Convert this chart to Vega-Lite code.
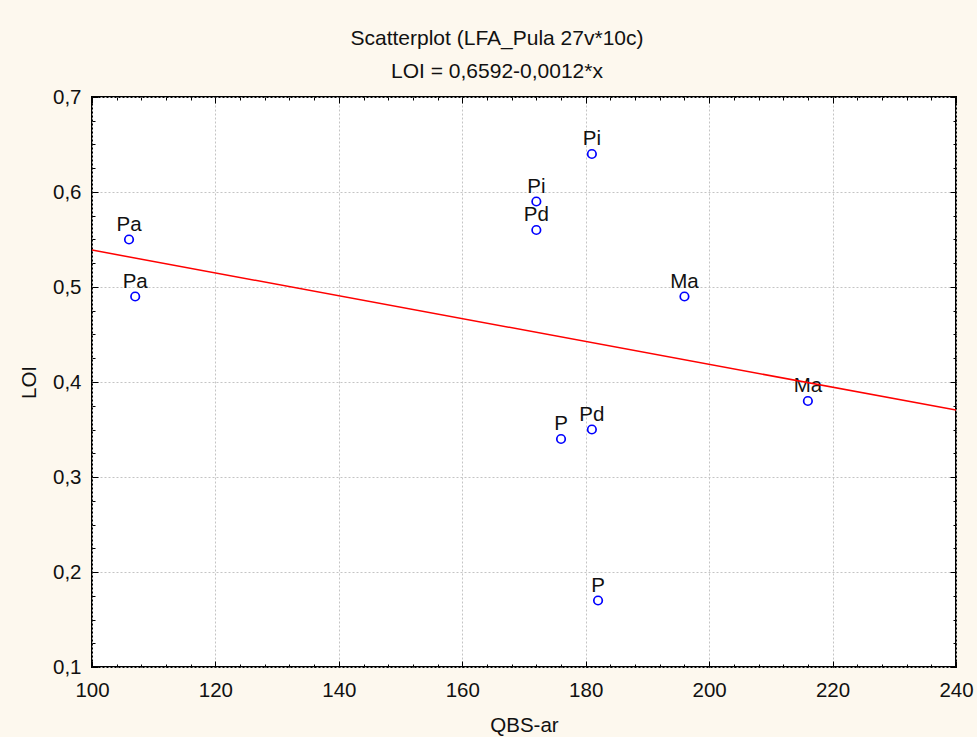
{
  "$schema": "https://vega.github.io/schema/vega-lite/v6.json",
  "width": 864,
  "height": 570,
  "autosize": {"type": "none"},
  "padding": {"left": 92, "top": 97, "right": 21, "bottom": 70},
  "background": "#fdf8ee",
  "title": {
    "text": ["Scatterplot (LFA_Pula 27v*10c)", "LOI = 0,6592-0,0012*x"],
    "font": "Liberation Sans",
    "fontSize": 21,
    "fontWeight": "normal",
    "color": "#111111",
    "lineHeight": 33,
    "anchor": "middle",
    "frame": "group",
    "dx": -27,
    "offset": 5
  },
  "data": {
    "values": [
      {"site": "Pa", "QBS": 106, "LOI": 0.55},
      {"site": "Pa", "QBS": 107, "LOI": 0.49},
      {"site": "Pi", "QBS": 172, "LOI": 0.59},
      {"site": "Pd", "QBS": 172, "LOI": 0.56},
      {"site": "Pi", "QBS": 181, "LOI": 0.64},
      {"site": "Ma", "QBS": 196, "LOI": 0.49},
      {"site": "Ma", "QBS": 216, "LOI": 0.38},
      {"site": "P", "QBS": 176, "LOI": 0.34},
      {"site": "Pd", "QBS": 181, "LOI": 0.35},
      {"site": "P", "QBS": 182, "LOI": 0.17}
    ]
  },
  "layer": [
    {
      "mark": {"type": "point", "shape": "circle", "filled": false, "stroke": "#0000ff", "strokeWidth": 1.7, "size": 72, "opacity": 1},
      "encoding": {
        "x": {
          "field": "QBS", "type": "quantitative",
          "scale": {"domain": [100, 240], "nice": false, "zero": false},
          "axis": {
            "orient": "bottom", "title": "QBS-ar", "titlePadding": 15,
            "values": [100, 120, 140, 160, 180, 200, 220, 240],
            "ticks": false, "grid": true, "labelPadding": 13,
            "labelFlush": false, "labelOverlap": false
          }
        },
        "y": {
          "field": "LOI", "type": "quantitative",
          "scale": {"domain": [0.1, 0.7], "nice": false, "zero": false},
          "axis": {
            "orient": "left", "title": "LOI", "titlePadding": 13,
            "values": [0.1, 0.2, 0.3, 0.4, 0.5, 0.6, 0.7],
            "labelExpr": "replace(format(datum.value, '.1f'), '.', ',')",
            "ticks": false, "grid": true, "labelPadding": 11,
            "labelFlush": false, "labelOverlap": false
          }
        }
      }
    },
    {
      "mark": {"type": "text", "dy": -9, "baseline": "alphabetic", "align": "center", "font": "Liberation Sans", "fontSize": 20.5, "color": "#111111"},
      "encoding": {
        "x": {
          "field": "QBS", "type": "quantitative",
          "axis": {"orient": "bottom", "title": null, "labels": false, "grid": false, "domain": false,
                   "values": [100, 120, 140, 160, 180, 200, 220, 240], "tickSize": -6}
        },
        "y": {
          "field": "LOI", "type": "quantitative",
          "axis": {"orient": "left", "title": null, "labels": false, "grid": false, "domain": false,
                   "values": [0.1, 0.2, 0.3, 0.4, 0.5, 0.6, 0.7], "tickSize": -6}
        },
        "text": {"field": "site"}
      }
    },
    {
      "transform": [{"regression": "LOI", "on": "QBS", "extent": [100, 240]}],
      "mark": {"type": "line", "color": "#ff0000", "strokeWidth": 1.5, "clip": true},
      "encoding": {
        "x": {
          "field": "QBS", "type": "quantitative",
          "axis": {"orient": "bottom", "title": null, "labels": false, "grid": false, "domain": false,
                   "values": [100, 104, 108, 112, 116, 120, 124, 128, 132, 136, 140, 144, 148, 152, 156, 160, 164, 168, 172, 176, 180, 184, 188, 192, 196, 200, 204, 208, 212, 216, 220, 224, 228, 232, 236, 240],
                   "tickSize": -3}
        },
        "y": {
          "field": "LOI", "type": "quantitative",
          "axis": {"orient": "left", "title": null, "labels": false, "grid": false, "domain": false,
                   "values": [0.1, 0.125, 0.15, 0.175, 0.2, 0.225, 0.25, 0.275, 0.3, 0.325, 0.35, 0.375, 0.4, 0.425, 0.45, 0.475, 0.5, 0.525, 0.55, 0.575, 0.6, 0.625, 0.65, 0.675, 0.7],
                   "tickSize": -3}
        }
      }
    },
    {
      "mark": {"type": "point", "opacity": 0},
      "encoding": {
        "x": {
          "field": "QBS", "type": "quantitative",
          "axis": {"orient": "top", "title": null, "labels": false, "grid": false, "domain": false,
                   "values": [100, 120, 140, 160, 180, 200, 220, 240], "tickSize": -6}
        },
        "y": {
          "field": "LOI", "type": "quantitative",
          "axis": {"orient": "right", "title": null, "labels": false, "grid": false, "domain": false,
                   "values": [0.1, 0.2, 0.3, 0.4, 0.5, 0.6, 0.7], "tickSize": -6}
        }
      }
    },
    {
      "mark": {"type": "point", "opacity": 0},
      "encoding": {
        "x": {
          "field": "QBS", "type": "quantitative",
          "axis": {"orient": "top", "title": null, "labels": false, "grid": false, "domain": false,
                   "values": [100, 104, 108, 112, 116, 120, 124, 128, 132, 136, 140, 144, 148, 152, 156, 160, 164, 168, 172, 176, 180, 184, 188, 192, 196, 200, 204, 208, 212, 216, 220, 224, 228, 232, 236, 240],
                   "tickSize": -3}
        },
        "y": {
          "field": "LOI", "type": "quantitative",
          "axis": {"orient": "right", "title": null, "labels": false, "grid": false, "domain": false,
                   "values": [0.1, 0.125, 0.15, 0.175, 0.2, 0.225, 0.25, 0.275, 0.3, 0.325, 0.35, 0.375, 0.4, 0.425, 0.45, 0.475, 0.5, 0.525, 0.55, 0.575, 0.6, 0.625, 0.65, 0.675, 0.7],
                   "tickSize": -3}
        }
      }
    }
  ],
  "resolve": {"axis": {"x": "independent", "y": "independent"}},
  "config": {
    "view": {"stroke": "#000000", "strokeWidth": 2, "fill": "#ffffff"},
    "axis": {
      "domain": false,
      "labelFont": "Liberation Sans",
      "labelFontSize": 20.5,
      "labelColor": "#111111",
      "titleFont": "Liberation Sans",
      "titleFontSize": 20.5,
      "titleFontWeight": "normal",
      "titleColor": "#111111",
      "tickColor": "#000000",
      "tickWidth": 1,
      "gridColor": "#c4c4c4",
      "gridWidth": 1,
      "gridDash": [2, 2]
    }
  }
}
